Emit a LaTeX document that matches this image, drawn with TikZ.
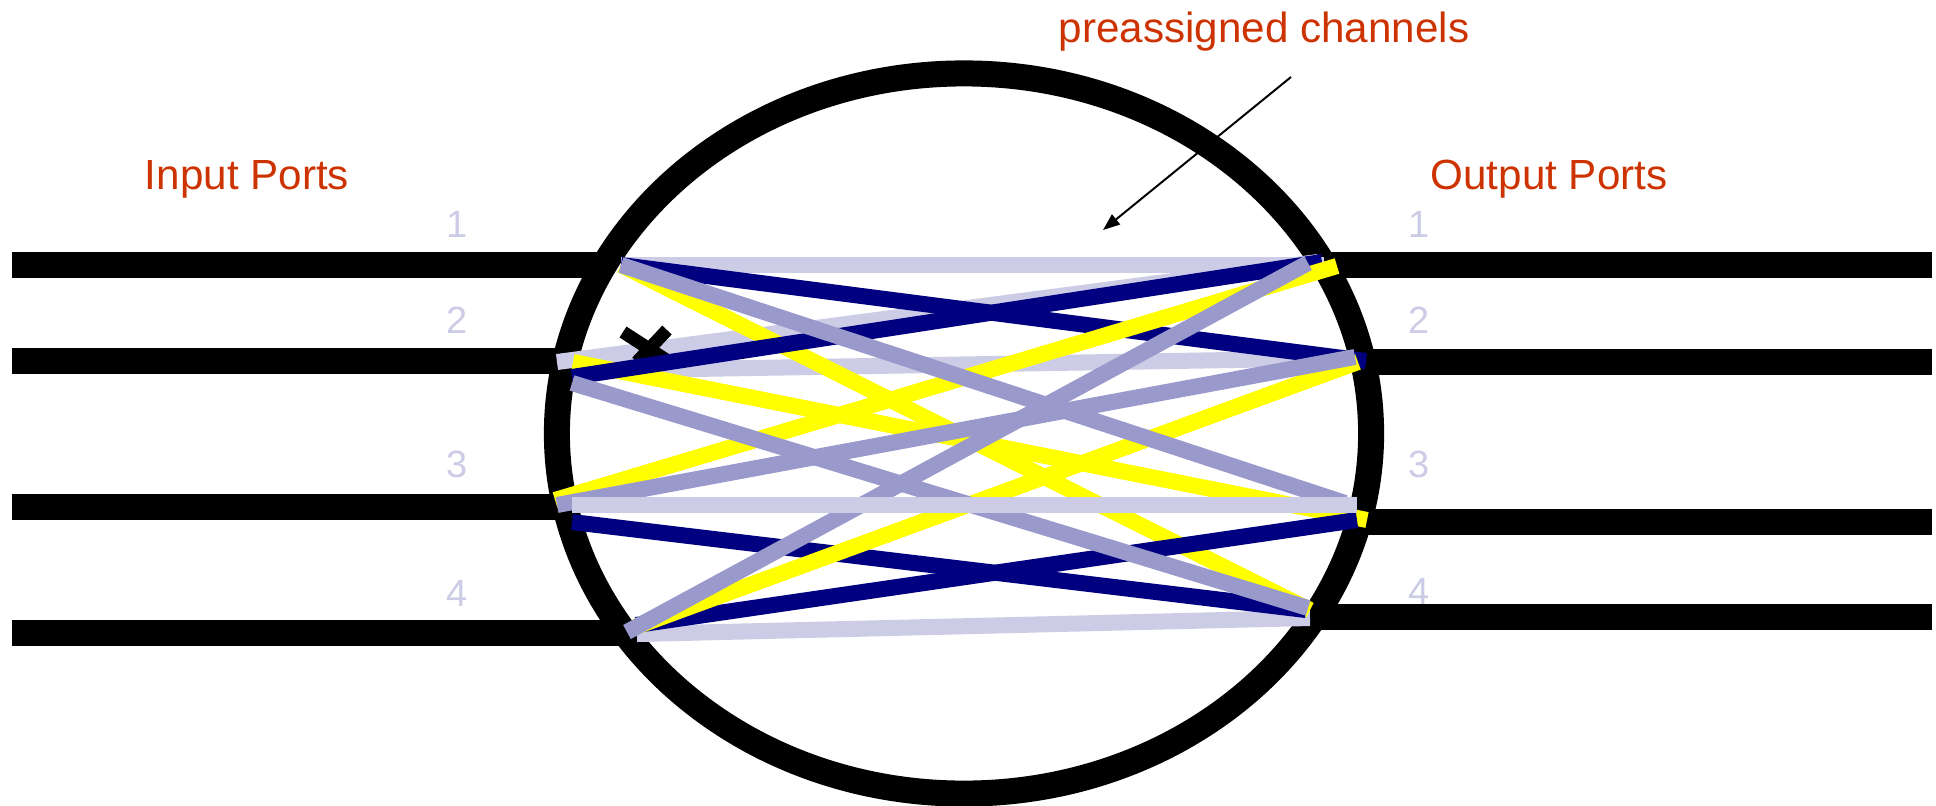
\documentclass[tikz,border=0pt]{standalone}
\usepackage{fontspec}
\setmainfont{Liberation Sans}
\usetikzlibrary{arrows.meta}
\definecolor{chred}{HTML}{CC3300}
\definecolor{chnavy}{HTML}{000080}
\definecolor{chmid}{HTML}{9999CC}
\definecolor{chlight}{HTML}{CCCCE6}
\definecolor{chyellow}{HTML}{FFFF00}

\begin{document}
\begin{tikzpicture}[x=0.025cm, y=-0.025cm,
    port/.style={line width=18.5pt, black},
    chan/.style={line width=11.4pt},
    lbl/.style={font=\fontsize{30}{36}\selectfont, text=chred, anchor=base, inner sep=0pt},
    num/.style={font=\fontsize{27}{32}\selectfont, text=chlight, anchor=base, inner sep=0pt}]
    \useasboundingbox (0,0) rectangle (1936,805);

    % Port lines and switch body
    \foreach \y in {265,361,507,633} \draw[port] (12,\y) -- (964,\y);
    \foreach \y in {265,362,522,617} \draw[port] (964,\y) -- (1932,\y);
    \draw[port, fill=white] (964,433.5) ellipse [x radius=10.175cm, y radius=9cm];

    % Labels
    \node[lbl] (pre) at (1264,42) {preassigned channels};
    \node[lbl] (inp) at (247,189) {Input Ports};
    \node[lbl] (outp) at (1549,189) {Output Ports};
    \node[num] (in1) at (457,237) {1};
    \node[num] (in2) at (457,333) {2};
    \node[num] (in3) at (457,477) {3};
    \node[num] (in4) at (457,606) {4};
    \node[num] (out1) at (1419,237) {1};
    \node[num] (out2) at (1419,333) {2};
    \node[num] (out3) at (1419,477) {3};
    \node[num] (out4) at (1419,604) {4};

    % Channel end points, input side
    \coordinate (i1) at (621,265);
    \coordinate (i2a) at (557,362);
    \coordinate (i2b) at (573,362);
    \coordinate (i2c) at (572,371);
    \coordinate (i2d) at (572,377);
    \coordinate (i2e) at (572,383);
    \coordinate (i3a) at (555,500);
    \coordinate (i3b) at (557,505);
    \coordinate (i3c) at (572,505);
    \coordinate (i3d) at (572,522);
    \coordinate (i4a) at (627,632);
    \coordinate (i4b) at (635,627);
    \coordinate (i4c) at (636,625);
    \coordinate (i4d) at (637,634);
    % Channel end points, output side
    \coordinate (o1a) at (1324,265);
    \coordinate (o1b) at (1322,262);
    \coordinate (o1c) at (1318,262);
    \coordinate (o1d) at (1337,266);
    \coordinate (o1e) at (1308,263);
    \coordinate (o2a) at (1366,361);
    \coordinate (o2b) at (1352,358);
    \coordinate (o2c) at (1355,357);
    \coordinate (o2d) at (1358,362);
    \coordinate (o3a) at (1345,503);
    \coordinate (o3b) at (1367,520);
    \coordinate (o3c) at (1357,505);
    \coordinate (o3d) at (1357,520);
    \coordinate (o4a) at (1310,610);
    \coordinate (o4b) at (1308,608);
    \coordinate (o4c) at (1306,610);
    \coordinate (o4d) at (1310,618);

    % Channels
    \draw[chan, chlight] (i1) -- (o1a);
    \draw[chan, chlight] (i2a) -- (o1c);
    \draw[chan, chlight] (i2c) -- (o2b);
    \draw[chan, chlight] (i4d) -- (o4d);
    \draw[chan, chyellow] (i1) -- (o4a);
    \draw[chan, chyellow] (i2b) -- (o3b);
    % broken channel mark
    \draw[line width=9.2pt] (623,332) -- (668,361);
    \draw[line width=9.2pt] (667,330) -- (637,362);
    \draw[chan, chnavy] (i1) -- (o2a);
    \draw[chan, chnavy] (i2d) -- (o1b);
    \draw[chan, chnavy] (i3d) -- (o4c);
    \draw[chan, chnavy] (i4c) -- (o3d);
    \draw[chan, chyellow] (i3a) -- (o1d);
    \draw[chan, chyellow] (i4b) -- (o2d);
    \draw[chan, chmid] (i1) -- (o3a);
    \draw[chan, chmid] (i2e) -- (o4b);
    \draw[chan, chmid] (i3b) -- (o2c);
    \draw[chan, chmid] (i4a) -- (o1e);
    \draw[chan, chlight] (i3c) -- (o3c);

    % Arrow to the channels
    \coordinate (tail) at (1291,77);
    \coordinate (tip) at (1103,230);
    \draw[-{Triangle[length=12pt, width=9pt]}, line width=1.4pt] (tail) -- (tip);
\end{tikzpicture}
\end{document}
